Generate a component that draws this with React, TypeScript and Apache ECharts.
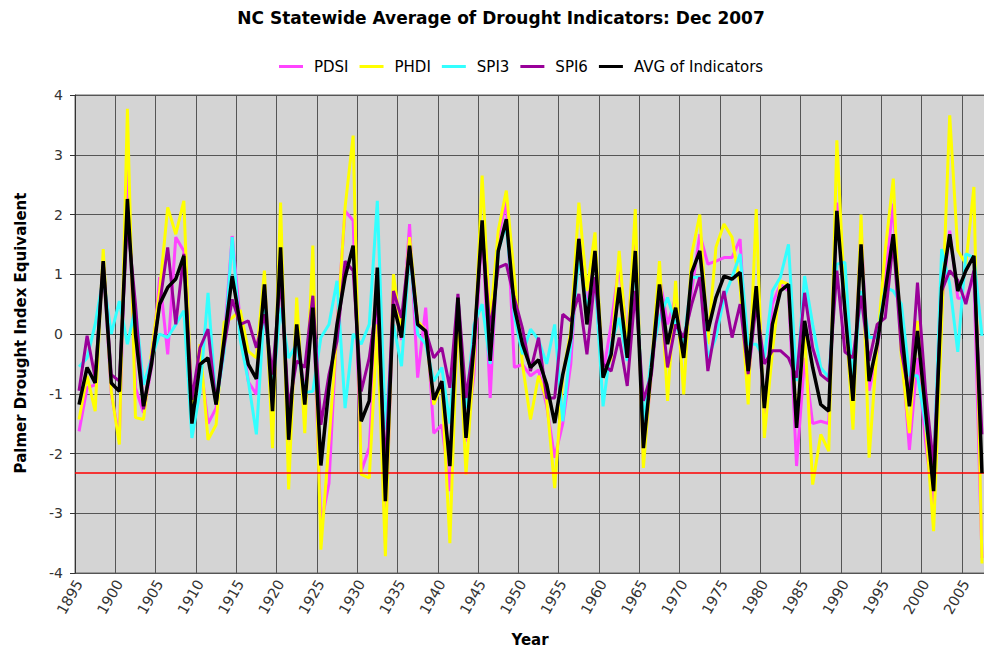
import React, { useEffect, useRef } from "react";
import * as echarts from "echarts";

const firstYear = 1895;
const lastYear = 2007;
const years: string[] = [];
for (let y = firstYear; y <= lastYear; y++) years.push(String(y));

const pdsi = [
  -1.63, -0.9, -0.85, 1.22, -1.0, -1.74, 2.9, -0.9, -1.32, -0.55,
  0.95, -0.34, 1.62, 1.39, -1.3, -0.4, -1.5, -1.24, -0.1, 1.64,
  0.2, -0.8, -1.01, 0.9, -1.5, 1.45, -1.8, 0.0, -1.0, 0.61,
  -3.2, -2.5, 0.16, 2.06, 1.9, -2.3, -1.9, 0.44, -3.5, 0.7,
  -0.1, 1.84, -0.73, 0.44, -1.66, -1.52, -2.63, 0.44, -1.8, -0.67,
  1.84, -1.07, 1.62, 2.23, -0.56, -0.51, -0.7, -0.6, -1.2, -2.07,
  -1.5, -0.5, 1.6, 0.44, 1.39, -0.67, 0.16, 1.17, -0.1, 1.73,
  -2.07, -0.67, 0.95, 0.16, 0.61, -0.4, 0.72, 1.67, 1.17, 1.22,
  1.28, 1.28, 1.59, -0.84, 0.8, -1.4, 0.5, 0.83, 0.72, -2.21,
  -0.4, -1.5, -1.46, -1.5, 2.2, 0.3, -1.3, 1.8, -0.95, -0.3,
  0.95, 2.18, -0.17, -1.94, -0.4, -1.8, -2.9, 0.5, 1.73, 0.6,
  0.6, 0.95, -3.75,
];

const phdi = [
  -1.43, -0.7, -1.29, 1.42, -0.96, -1.85, 3.77, -1.4, -1.43, -0.3,
  0.72, 2.12, 1.67, 2.23, -1.35, -0.17, -1.77, -1.52, 0.2, 0.27,
  0.4, -0.29, -0.4, 1.06, -1.91, 2.2, -2.6, 0.61, -1.66, 1.48,
  -3.61, -1.8, 0.05, 2.12, 3.32, -2.35, -2.41, 0.16, -3.72, 1.0,
  0.0, 1.62, 0.22, 0.05, -1.18, -0.85, -3.5, 0.44, -2.35, -0.4,
  2.65, 0.16, 1.73, 2.4, 0.95, -0.5, -1.43, -0.7, -1.1, -2.58,
  -0.7, 0.05, 2.2, 0.72, 1.7, -0.73, -0.4, 1.39, -0.28, 2.09,
  -2.24, -0.56, 1.22, -1.12, 0.89, -1.01, 1.34, 2.0, -0.17, 1.45,
  1.84, 1.62, 0.8, -1.18, 2.09, -1.74, -0.3, 0.89, 0.83, -1.5,
  0.05, -2.52, -1.68, -1.96, 3.24, 0.5, -1.6, 2.0, -2.07, -0.2,
  1.4, 2.6, -0.4, -1.66, 0.22, -1.5, -3.3, 0.16, 3.66, 1.4,
  1.17, 2.46, -3.84,
];

const spi3 = [
  -0.55, -0.4, 0.16, 0.95, 0.0, 0.55, -0.17, 0.45, -0.85, -0.4,
  0.0, -0.06, 0.16, 0.39, -1.74, -0.96, 0.69, -1.18, -0.3, 1.62,
  -0.1, -0.79, -1.68, 0.5, -0.95, 0.44, -0.4, -0.17, -0.98, -0.96,
  -0.06, 0.16, 0.89, -1.24, 0.0, -0.17, 0.16, 2.23, -1.6, 0.16,
  -0.54, 1.39, 0.0, -0.17, -0.79, -0.56, -1.5, 0.61, -1.24, 0.16,
  0.5, -0.5, 1.39, 1.84, 0.3, -0.34, 0.08, -0.1, -0.5, 0.16,
  -1.46, -0.17, 1.3, 0.44, 0.95, -1.21, -0.17, 0.27, -0.45, 1.28,
  -1.5, -0.4, 0.27, 0.61, 0.16, -0.17, 0.95, 0.95, -0.4, -0.06,
  0.61, 0.95, 1.34, -0.17, -0.17, -0.4, 0.72, 0.95, 1.5, -0.79,
  0.97, 0.16, -0.56, -0.73, 1.17, 1.2, -0.84, 0.72, -0.06, -0.06,
  0.78, 0.72, 0.5, -0.7, -0.7, -1.5, -2.3, 1.42, 0.83, -0.3,
  1.34, 1.28, -0.03,
];

const spi6 = [
  -0.95, -0.03, -0.73, 1.2, -0.68, -0.79, 1.9, 0.5, -1.26, -0.4,
  0.5, 1.45, 0.16, 1.34, -1.1, -0.23, 0.08, -1.18, -0.2, 0.58,
  0.16, 0.22, -0.23, 0.33, -0.68, 0.95, -1.24, -0.45, -0.56, 0.64,
  -1.52, -0.68, -0.12, 1.22, 1.06, -0.96, -0.4, 0.61, -2.3, 0.72,
  0.27, 1.45, 0.16, 0.05, -0.4, -0.23, -0.9, 0.67, -1.07, -0.12,
  1.73, 0.05, 1.11, 1.17, 0.6, 0.1, -0.62, -0.06, -1.07, -1.07,
  0.33, 0.22, 0.67, -0.34, 0.95, -0.5, -0.62, -0.06, -0.87, 0.72,
  -1.12, -0.67, 0.72, -0.56, 0.16, -0.06, 0.5, 0.95, -0.62, 0.16,
  0.72, -0.06, 0.5, -0.67, 0.5, -0.5, -0.28, -0.28, -0.4, -0.73,
  0.69, -0.23, -0.68, -0.79, 1.06, -0.3, -0.4, 0.64, -0.45, 0.16,
  0.27, 1.56, -0.28, -1.07, 0.86, -0.96, -2.2, 0.72, 1.06, 0.9,
  0.5, 1.06, -1.68,
];

const avgIndicators = [
  -1.18, -0.56, -0.82, 1.22, -0.82, -0.96, 2.26, 0.0, -1.21, -0.5,
  0.5, 0.78, 0.92, 1.31, -1.5, -0.51, -0.4, -1.18, -0.1, 0.97,
  0.16, -0.51, -0.75, 0.83, -1.29, 1.45, -1.77, 0.16, -1.18, 0.44,
  -2.2, -0.9, 0.16, 0.95, 1.48, -1.46, -1.12, 1.11, -2.8, 0.5,
  -0.06, 1.48, 0.16, 0.05, -1.1, -0.79, -2.21, 0.61, -1.74, -0.17,
  1.9, -0.45, 1.39, 1.92, 0.44, -0.17, -0.56, -0.43, -0.84, -1.49,
  -0.68, -0.06, 1.59, 0.16, 1.39, -0.73, -0.34, 0.78, -0.4, 1.39,
  -1.91, -0.56, 0.83, -0.17, 0.44, -0.4, 1.03, 1.39, 0.05, 0.61,
  0.97, 0.92, 1.03, -0.62, 0.8, -1.24, 0.16, 0.72, 0.83, -1.57,
  0.22, -0.56, -1.18, -1.29, 2.06, 0.4, -1.12, 1.5, -0.79, -0.17,
  0.72, 1.67, 0.1, -1.21, 0.05, -1.29, -2.63, 0.78, 1.67, 0.72,
  1.06, 1.31, -2.33,
];

const currentLevel = -2.33;

const seriesNames = ["PDSI", "PHDI", "SPI3", "SPI6", "AVG of Indicators"];
const seriesColors = ["#ff44ff", "#ffff00", "#33ffff", "#990099", "#000000"];
const seriesData = [pdsi, phdi, spi3, spi6, avgIndicators];

const FONT = "'DejaVu Sans', Verdana, sans-serif";

export default function App() {
  const ref = useRef<HTMLDivElement>(null);
  useEffect(() => {
    if (!ref.current) return;
    const chart = echarts.init(ref.current, undefined, { renderer: "svg" });
    const series: any[] = seriesNames.map((name, i) => ({
      name,
      type: "line",
      data: seriesData[i],
      symbol: "none",
      color: seriesColors[i],
      lineStyle: { color: seriesColors[i], width: i === 4 ? 3.5 : 3 },
      z: 2 + i,
    }));
    series[0].markLine = {
      silent: true,
      symbol: "none",
      label: { show: false },
      lineStyle: { color: "#ff0000", width: 1.5, type: "solid" },
      data: [{ yAxis: currentLevel }],
    };
    chart.setOption({
      animation: false,
      textStyle: { fontFamily: FONT },
      legend: {
        data: seriesNames,
        left: 274,
        top: 54,
        icon: "rect",
        itemWidth: 24,
        itemHeight: 3,
        itemGap: 11,
        textStyle: { fontSize: 15, color: "#000", fontFamily: FONT, padding: [0, 0, 0, 6] },
      },
      grid: {
        left: 75,
        right: 4,
        top: 95,
        bottom: 77,
        show: true,
        backgroundColor: "#d4d4d4",
        borderColor: "#666",
        borderWidth: 1,
      },
      xAxis: {
        type: "category",
        data: years,
        boundaryGap: true,
        axisLine: { lineStyle: { color: "#333", width: 1 } },
        axisTick: { show: true, interval: 4, length: 5, lineStyle: { color: "#333" } },
        axisLabel: { interval: 4, rotate: 60, fontSize: 14.5, color: "#333", fontFamily: FONT, margin: 8 },
        splitLine: { show: true, interval: 4, lineStyle: { color: "#555", width: 1 } },
      },
      yAxis: {
        type: "value",
        min: -4,
        max: 4,
        interval: 1,
        axisLine: { show: true, lineStyle: { color: "#333", width: 1 } },
        axisTick: { show: true, length: 5, lineStyle: { color: "#333" } },
        axisLabel: { fontSize: 14, color: "#333", fontFamily: FONT, margin: 12 },
        splitLine: { show: true, lineStyle: { color: "#555", width: 1 } },
      },
      graphic: [
        {
          type: "text",
          x: 501,
          y: 18,
          style: {
            text: "NC Statewide Average of Drought Indicators: Dec 2007",
            font: `bold 17px ${FONT}`,
            fill: "#000",
            align: "center",
            verticalAlign: "middle",
          },
        },
        {
          type: "text",
          x: 530,
          y: 640,
          style: {
            text: "Year",
            font: `bold 15px ${FONT}`,
            fill: "#000",
            align: "center",
            verticalAlign: "middle",
          },
        },
        {
          type: "text",
          x: 21,
          y: 333,
          rotation: Math.PI / 2,
          style: {
            text: "Palmer Drought Index Equivalent",
            font: `bold 15px ${FONT}`,
            fill: "#000",
            align: "center",
            verticalAlign: "middle",
          },
        },
      ],
      series,
    });
    return () => chart.dispose();
  }, []);
  return (
    <div style={{ position: "absolute", left: 0, top: 0, width: 984, height: 650, overflow: "hidden", background: "#fff" }}>
      <div ref={ref} style={{ width: 990, height: 650 }} />
    </div>
  );
}
